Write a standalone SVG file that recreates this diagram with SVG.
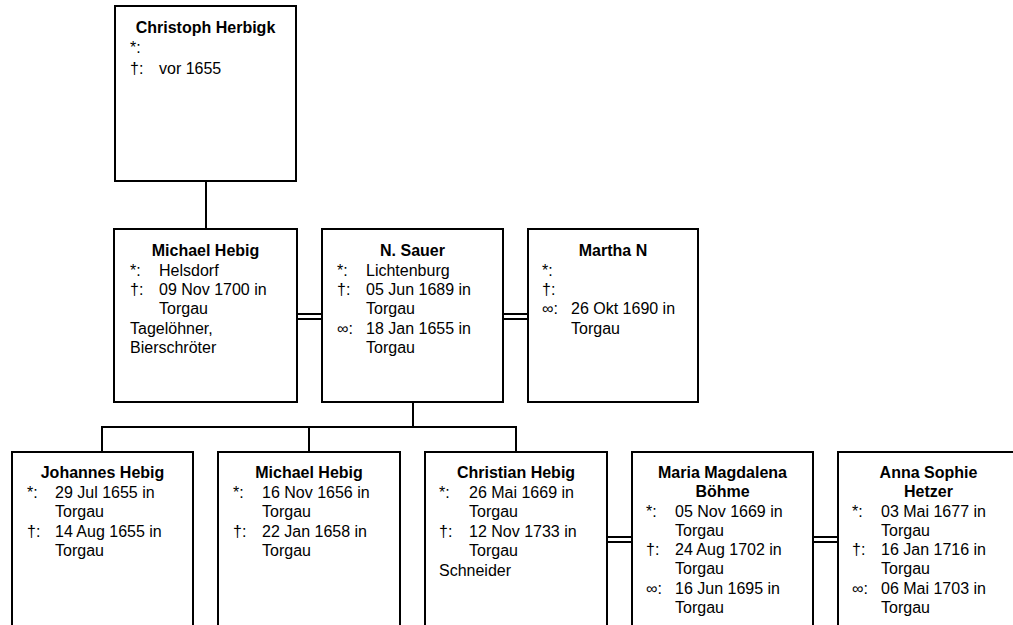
<svg xmlns="http://www.w3.org/2000/svg" width="1013" height="625" viewBox="0 0 1013 625">
<style>
.box{fill:#fff;stroke:#000;stroke-width:2}
.ln{fill:none;stroke:#000;stroke-width:2}
text{font-family:"Liberation Sans",Arial,sans-serif;font-size:16px;fill:#000}
.t{font-weight:bold;text-anchor:middle}
</style>
<rect width="1013" height="625" fill="#fff"/>
<g id="connectors">
<path class="ln" d="M206,181V229"/>
<path class="ln" d="M297,314H322M297,319H322"/>
<path class="ln" d="M503,314H528M503,319H528"/>
<path class="ln" d="M413,402V427M102,452V427H516V452M309,427V452"/>
<path class="ln" d="M607,537H632M607,542H632"/>
<path class="ln" d="M813,537H838M813,542H838"/>
</g>
<g id="christoph">
<rect class="box" x="115" y="6" width="181" height="175"/>
<text class="t" x="205.5" y="33">Christoph Herbigk</text>
<text x="130" y="53">*:</text>
<text x="130" y="73.5">†:</text><text x="159" y="73.5">vor 1655</text>
</g>
<g id="michael">
<rect class="box" x="114" y="229" width="183" height="173"/>
<text class="t" x="205.5" y="255.5">Michael Hebig</text>
<text x="130" y="275.5">*:</text><text x="159" y="275.5">Helsdorf</text>
<text x="130" y="295">†:</text><text x="159" y="295">09 Nov 1700 in</text>
<text x="159" y="314">Torgau</text>
<text x="130" y="333.5">Tagelöhner,</text>
<text x="130" y="352.5">Bierschröter</text>
</g>
<g id="sauer">
<rect class="box" x="322" y="229" width="181" height="173"/>
<text class="t" x="412.5" y="255.5">N. Sauer</text>
<text x="337" y="275.5">*:</text><text x="366" y="275.5">Lichtenburg</text>
<text x="337" y="295">†:</text><text x="366" y="295">05 Jun 1689 in</text>
<text x="366" y="314">Torgau</text>
<text x="337" y="333.5">∞:</text><text x="366" y="333.5">18 Jan 1655 in</text>
<text x="366" y="352.5">Torgau</text>
</g>
<g id="martha">
<rect class="box" x="528" y="229" width="170" height="173"/>
<text class="t" x="613" y="255.5">Martha N</text>
<text x="542" y="275.5">*:</text>
<text x="542" y="295">†:</text>
<text x="542" y="314">∞:</text><text x="571" y="314">26 Okt 1690 in</text>
<text x="571" y="333.5">Torgau</text>
</g>
<g id="johannes">
<rect class="box" x="12" y="452" width="181" height="190"/>
<text class="t" x="102.5" y="478">Johannes Hebig</text>
<text x="27" y="497.5">*:</text><text x="55" y="497.5">29 Jul 1655 in</text>
<text x="55" y="517">Torgau</text>
<text x="27" y="536.5">†:</text><text x="55" y="536.5">14 Aug 1655 in</text>
<text x="55" y="556">Torgau</text>
</g>
<g id="michael2">
<rect class="box" x="218" y="452" width="182" height="190"/>
<text class="t" x="309" y="478">Michael Hebig</text>
<text x="233" y="497.5">*:</text><text x="262" y="497.5">16 Nov 1656 in</text>
<text x="262" y="517">Torgau</text>
<text x="233" y="536.5">†:</text><text x="262" y="536.5">22 Jan 1658 in</text>
<text x="262" y="556">Torgau</text>
</g>
<g id="christian">
<rect class="box" x="425" y="452" width="182" height="190"/>
<text class="t" x="516" y="478">Christian Hebig</text>
<text x="439" y="497.5">*:</text><text x="469" y="497.5">26 Mai 1669 in</text>
<text x="469" y="517">Torgau</text>
<text x="439" y="536.5">†:</text><text x="469" y="536.5">12 Nov 1733 in</text>
<text x="469" y="556">Torgau</text>
<text x="439" y="575.5">Schneider</text>
</g>
<g id="maria">
<rect class="box" x="632" y="452" width="181" height="190"/>
<text class="t" x="722.5" y="478">Maria Magdalena</text>
<text class="t" x="722.5" y="497">Böhme</text>
<text x="646" y="516.5">*:</text><text x="675" y="516.5">05 Nov 1669 in</text>
<text x="675" y="535.5">Torgau</text>
<text x="646" y="555">†:</text><text x="675" y="555">24 Aug 1702 in</text>
<text x="675" y="574">Torgau</text>
<text x="646" y="593.5">∞:</text><text x="675" y="593.5">16 Jun 1695 in</text>
<text x="675" y="612.5">Torgau</text>
</g>
<g id="anna">
<rect class="box" x="838" y="452" width="181" height="190"/>
<text class="t" x="928.5" y="478">Anna Sophie</text>
<text class="t" x="928.5" y="497">Hetzer</text>
<text x="852" y="516.5">*:</text><text x="881" y="516.5">03 Mai 1677 in</text>
<text x="881" y="535.5">Torgau</text>
<text x="852" y="555">†:</text><text x="881" y="555">16 Jan 1716 in</text>
<text x="881" y="574">Torgau</text>
<text x="852" y="593.5">∞:</text><text x="881" y="593.5">06 Mai 1703 in</text>
<text x="881" y="612.5">Torgau</text>
</g>
</svg>
